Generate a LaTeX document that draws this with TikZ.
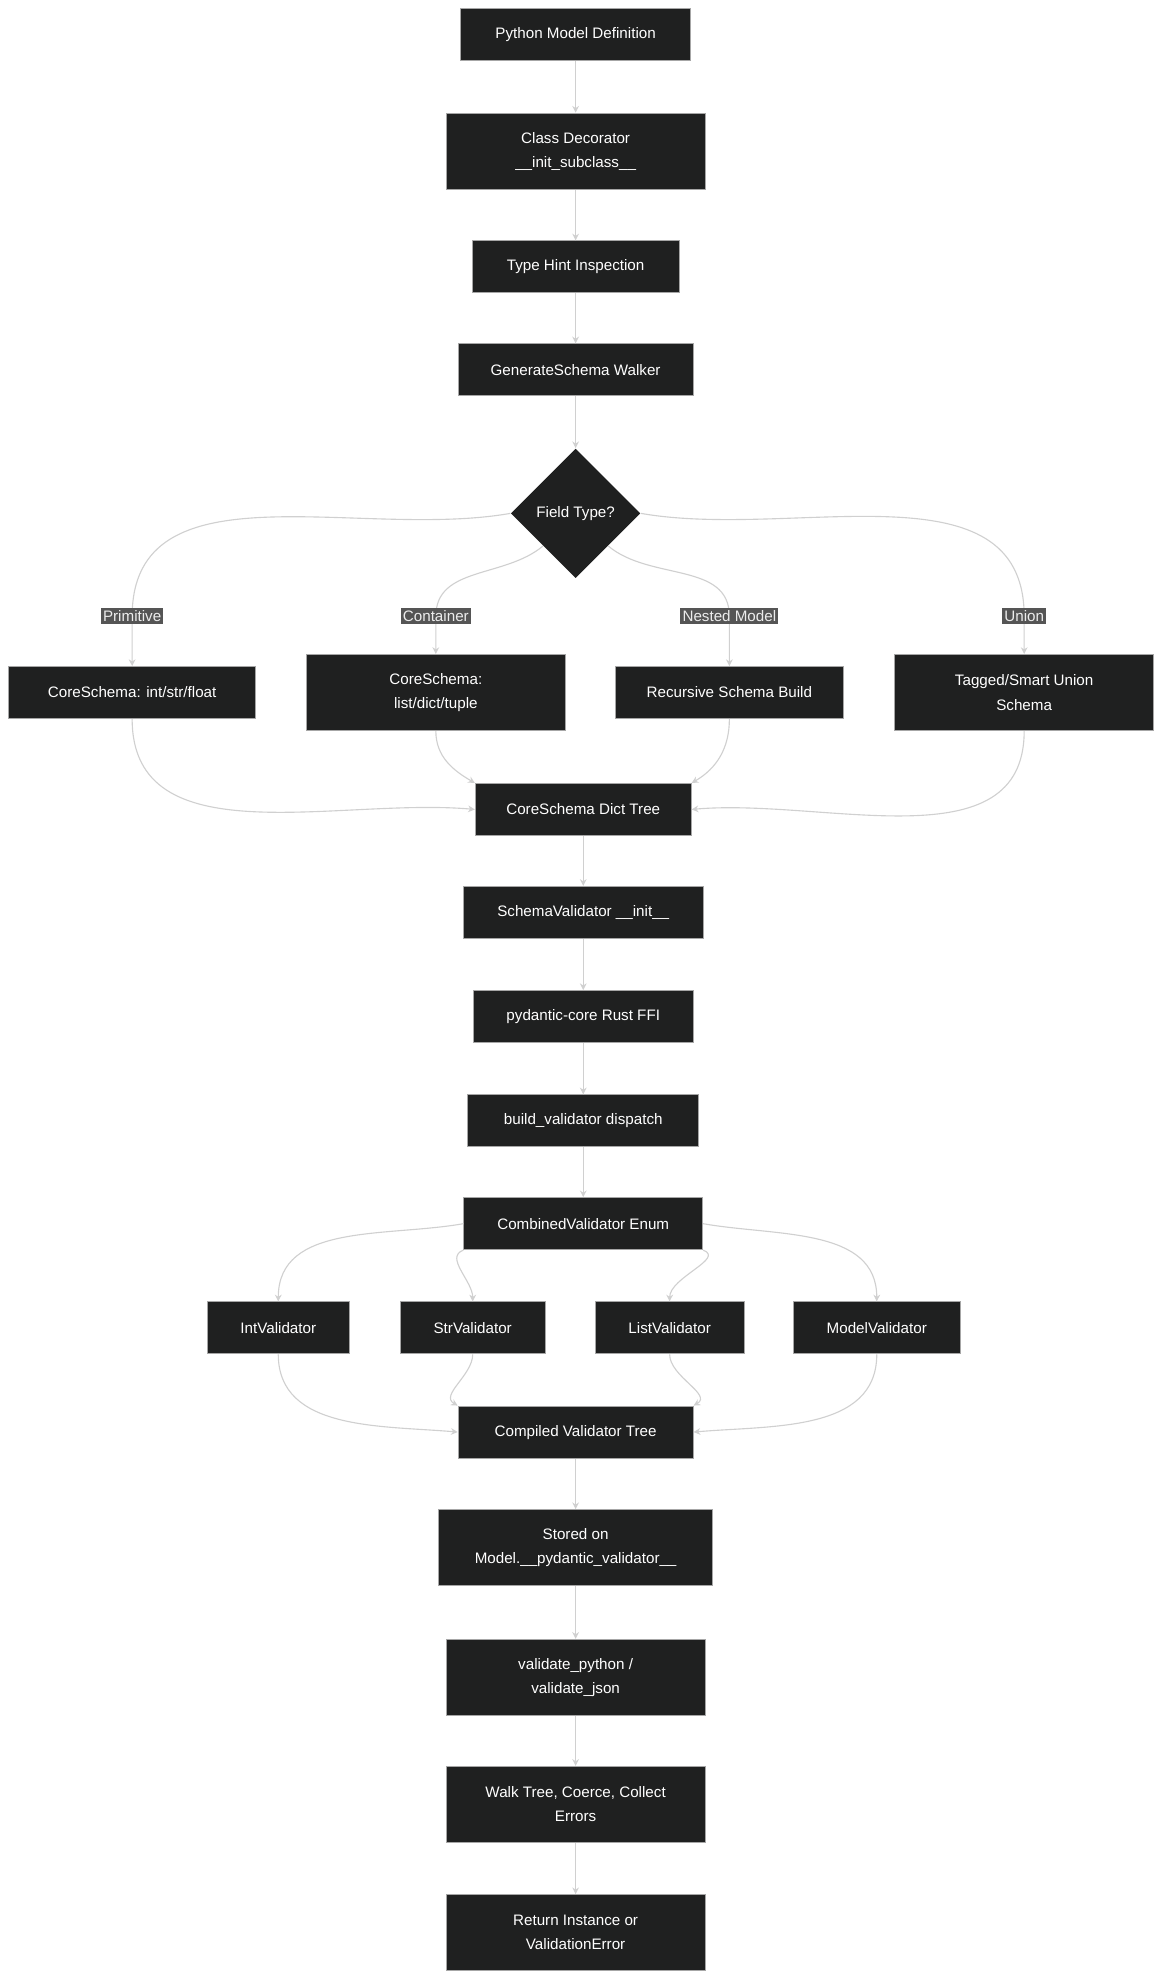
\documentclass[tikz,border=0pt]{standalone}
\usepackage{fontspec}
\setmainfont{Liberation Sans}
\usetikzlibrary{shapes.geometric, arrows.meta}
\definecolor{boxfill}{HTML}{1F2020}
\definecolor{edgegray}{HTML}{D0D0D0}
\definecolor{labfill}{HTML}{555555}
\tikzset{
  box/.style = {draw=gray!70, fill=boxfill, text=white, align=center,
    font=\fontsize{6.8}{10.8}\selectfont, inner sep=0pt, minimum height=0.82cm},
  tallbox/.style = {box, minimum height=1.2cm},
  edge/.style = {draw=edgegray, line width=0.5pt, -{Stealth[length=3pt,width=3pt]}},
  elabel/.style = {fill=labfill, text=gray!15, inner sep=1pt,
    font=\fontsize{6.8}{8}\selectfont}
}
\begin{document}
\begin{tikzpicture}[x=0.02cm, y=-0.02cm]
\useasboundingbox[fill=white] (0,0) rectangle (915,1559);

% top chain
\node[box, minimum width=3.62cm] (pydef) at (453,27) {Python Model Definition};
\node[tallbox, minimum width=4.08cm] (deco) at (453,119) {Class Decorator\\\_\_init\_subclass\_\_};
\node[box, minimum width=3.26cm] (hint) at (453,210) {Type Hint Inspection};
\node[box, minimum width=3.7cm] (walker) at (453,291) {GenerateSchema Walker};
\node[diamond, fill=boxfill, text=white, inner sep=0pt, minimum width=2.04cm,
  minimum height=2.04cm, font=\fontsize{6.8}{8}\selectfont] (ftype) at (453,404) {Field Type?};

% branches
\node[box, minimum width=3.88cm] (prim) at (104,545) {CoreSchema: int/str/float};
\node[tallbox, minimum width=4.08cm] (cont) at (343,545) {CoreSchema:\\list/dict/tuple};
\node[box, minimum width=3.58cm] (nest) at (574,545) {Recursive Schema Build};
\node[tallbox, minimum width=4.08cm] (union) at (806,545) {Tagged/Smart Union\\Schema};

\coordinate (lprim) at (104,485);
\coordinate (lcont) at (343,485);
\coordinate (lnest) at (574,485);
\coordinate (lunion) at (806,485);

% middle chain
\node[box, minimum width=3.4cm] (tree) at (459,637) {CoreSchema Dict Tree};
\node[box, minimum width=3.78cm] (sval) at (459,718) {SchemaValidator \_\_init\_\_};
\node[box, minimum width=3.46cm] (ffi) at (459,800) {pydantic-core Rust FFI};
\node[box, minimum width=3.64cm] (build) at (459,882) {build\_validator dispatch};
\node[box, minimum width=3.76cm] (comb) at (459,963) {CombinedValidator Enum};

% validators
\node[box, minimum width=2.24cm] (intv) at (219,1045) {IntValidator};
\node[box, minimum width=2.28cm] (strv) at (372,1045) {StrValidator};
\node[box, minimum width=2.34cm] (listv) at (527,1045) {ListValidator};
\node[box, minimum width=2.62cm] (modv) at (690,1045) {ModelValidator};

% bottom chain
\node[box, minimum width=3.7cm] (cvt) at (453,1127) {Compiled Validator Tree};
\node[tallbox, minimum width=4.32cm] (stored) at (453,1218) {Stored on\\Model.\_\_pydantic\_validator\_\_};
\node[tallbox, minimum width=4.08cm] (valpy) at (453,1320) {validate\_python /\\validate\_json};
\node[tallbox, minimum width=4.08cm] (walk) at (453,1420) {Walk Tree, Coerce, Collect\\Errors};
\node[tallbox, minimum width=4.08cm] (ret) at (453,1521) {Return Instance or\\ValidationError};

\draw[edge] (pydef) -- (deco);
\draw[edge] (deco) -- (hint);
\draw[edge] (hint) -- (walker);
\draw[edge] (walker) -- (ftype);

\draw[edge] (ftype.west) to[out=190, in=90] (lprim) -- (prim);
\draw[edge] (ftype.south west) to[out=220, in=90] (lcont) -- (cont);
\draw[edge] (ftype.south east) to[out=-40, in=90] (lnest) -- (nest);
\draw[edge] (ftype.east) to[out=-10, in=90] (lunion) -- (union);

\node[elabel] at (lprim) {Primitive};
\node[elabel] at (lcont) {Container};
\node[elabel] at (lnest) {Nested Model};
\node[elabel] at (lunion) {Union};

\draw[edge] (prim.south) to[out=-90, in=175] (tree.west);
\draw[edge] (cont.south) to[out=-90, in=150] (tree.north west);
\draw[edge] (nest.south) to[out=-90, in=30] (tree.north east);
\draw[edge] (union.south) to[out=-90, in=5] (tree.east);

\draw[edge] (tree) -- (sval);
\draw[edge] (sval) -- (ffi);
\draw[edge] (ffi) -- (build);
\draw[edge] (build) -- (comb);

\draw[edge] (comb.west) to[out=190, in=90] (intv.north);
\draw[edge] (comb.south west) to[out=200, in=90] (strv.north);
\draw[edge] (comb.south east) to[out=-20, in=90] (listv.north);
\draw[edge] (comb.east) to[out=-10, in=90] (modv.north);

\draw[edge] (intv.south) to[out=-90, in=175] (cvt.west);
\draw[edge] (strv.south) to[out=-90, in=150] (cvt.north west);
\draw[edge] (listv.south) to[out=-90, in=30] (cvt.north east);
\draw[edge] (modv.south) to[out=-90, in=5] (cvt.east);

\draw[edge] (cvt) -- (stored);
\draw[edge] (stored) -- (valpy);
\draw[edge] (valpy) -- (walk);
\draw[edge] (walk) -- (ret);
\end{tikzpicture}
\end{document}
